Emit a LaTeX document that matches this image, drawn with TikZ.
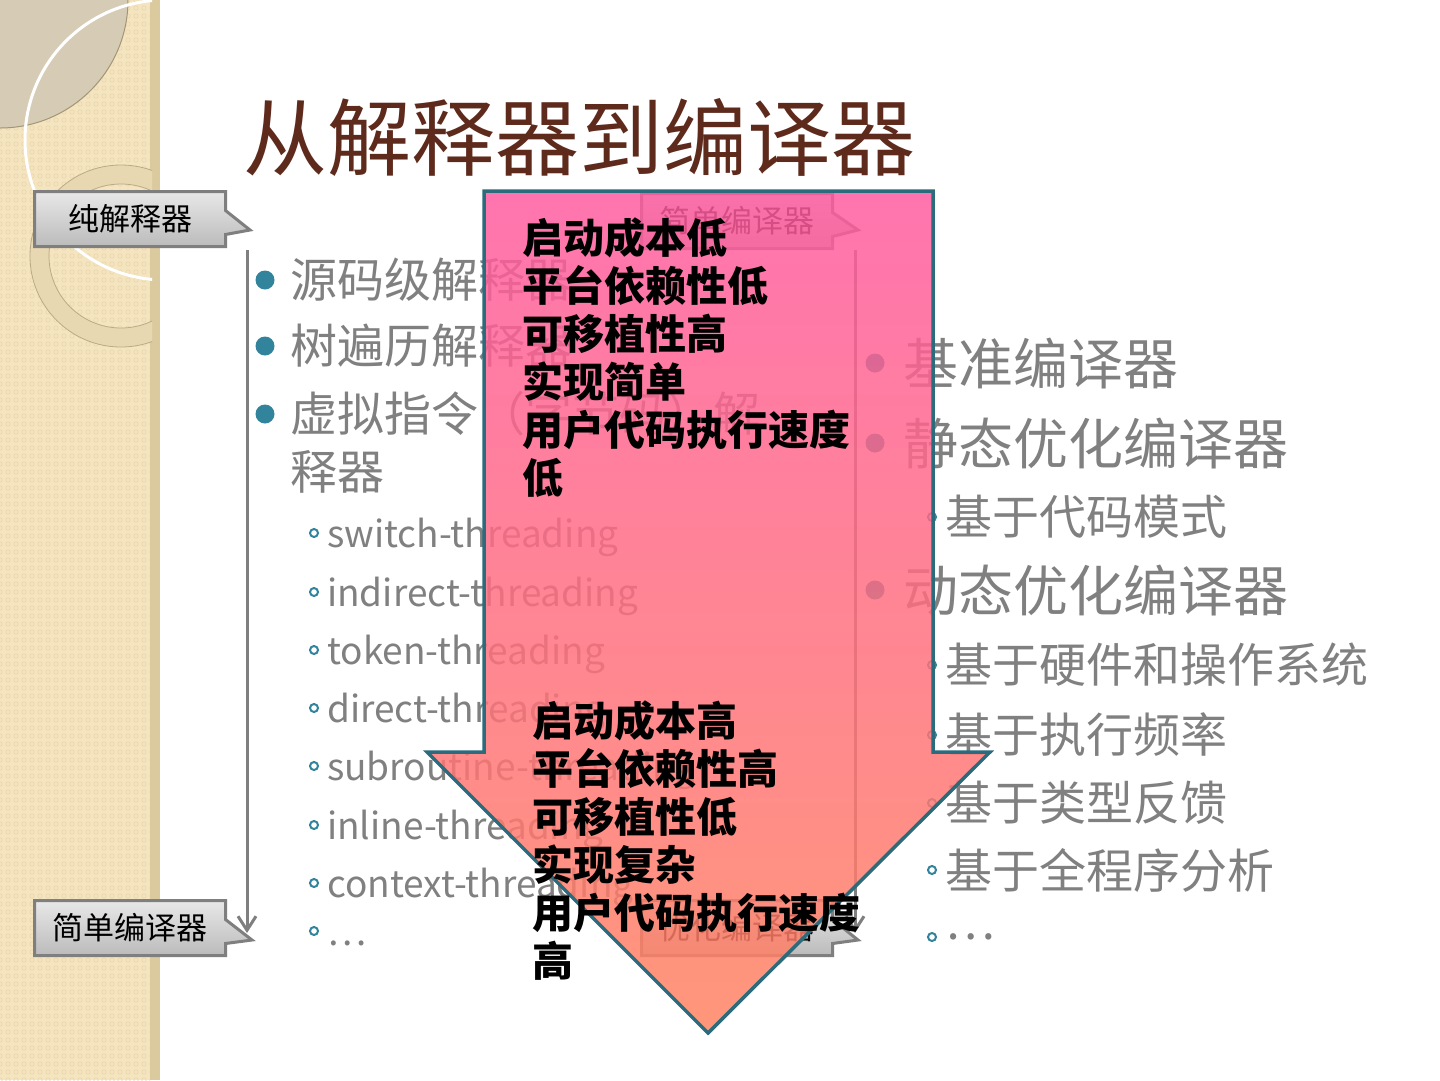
\documentclass[tikz,border=0pt]{standalone}
\usepackage{fontspec}
\setmainfont{Noto Sans CJK SC}
\usetikzlibrary{arrows.meta, positioning, calc, shapes.callouts, patterns.meta}

\definecolor{titlebrown}{HTML}{5E2A1C}
\definecolor{itemgrey}{HTML}{808080}
\definecolor{bullteal}{HTML}{31849B}
\definecolor{stripbeige}{HTML}{F4E4C0}
\definecolor{ringbeige}{HTML}{E9D6A9}
\definecolor{stripedge}{HTML}{DCCA9F}
\definecolor{lensgrey}{HTML}{D6CCB6}
\definecolor{ringtan}{HTML}{E8D8B2}
\definecolor{taggrey}{HTML}{7F7F7F}
\definecolor{tagtop}{HTML}{E8E8E8}
\definecolor{tagbot}{HTML}{BBBBBB}
\definecolor{arrowtop}{HTML}{FF5AA0}
\definecolor{arrowbot}{HTML}{FF8360}
\definecolor{arrowedge}{HTML}{2B6B7C}

\tikzdeclarepattern{
  name=rings,
  type=uncolored,
  bounding box={(-4pt,-4pt) and (4pt,4pt)},
  tile size={(8pt,8pt)},
  code={\draw[line width=0.7pt] (0pt,0pt) circle [radius=2.2pt];}
}

\begin{document}
\begin{tikzpicture}[x=1pt, y=-1pt,
    item/.style={anchor=west, inner sep=0pt, text=itemgrey, font=\fontsize{47}{56}\selectfont},
    subitem/.style={anchor=base west, inner sep=0pt, text=itemgrey, font=\fontsize{37}{44}\selectfont},
    ritem/.style={item, font=\fontsize{55}{64}\selectfont},
    bigdot/.style={circle, fill=bullteal, inner sep=0pt, minimum size=19pt},
    smalldot/.style={circle, draw=bullteal, line width=2pt, inner sep=0pt, minimum size=8pt},
    tag/.style={rectangle callout, callout pointer width=24pt, draw=taggrey, line width=3pt,
        top color=tagtop, bottom color=tagbot, minimum width=191pt, minimum height=55pt,
        font=\fontsize{31}{36}\selectfont},
    guide/.style={draw=taggrey, line width=3pt, -{Straight Barb[length=14pt, width=18pt]}},
    note/.style={anchor=north west, inner sep=0pt, align=left, font=\bfseries\fontsize{41}{48}\selectfont}
]
    \useasboundingbox (0,0) rectangle (1440,1080);
    \fill[white] (0,0) rectangle (1440,1080);

    % left strip
    \fill[stripbeige] (0,0) rectangle (160,1080);
    \fill[pattern={rings}, pattern color=ringbeige] (0,0) rectangle (150,1080);
    \fill[stripedge] (150,0) rectangle (160,1080);
    \begin{scope}
        \clip (0,0) rectangle (152,1080);
        \fill[lensgrey] (0,0) circle (128);
        \draw[ringbeige!70!black, line width=1pt] (0,0) circle (128);
        \fill[ringtan, even odd rule] (121,256) circle (91) (121,256) circle (72);
        \draw[ringbeige!80!black, line width=0.8pt] (121,256) circle (91) (121,256) circle (72);
        \draw[white, line width=3pt] (165,140) circle (140);
    \end{scope}

    % title
    \node[anchor=west, inner sep=0pt, text=titlebrown, font=\fontsize{84}{90}\selectfont]
        (title) at (243,137) {从解释器到编译器};

    % left column
    \node[item] (s1) at (290,280) {源码级解释器};
    \node[item] (s2) at (290,346) {树遍历解释器};
    \node[item] (s3) at (290,414) {虚拟指令（字节码）解};
    \node[item] (s4) at (290,472) {释器};
    \node[bigdot] (b1) at (265,280) {};
    \node[bigdot] (b2) at (265,346) {};
    \node[bigdot] (b3) at (265,414) {};

    \node[subitem] (t1) at (327,547) {switch-threading};
    \node[subitem] (t2) at (327,606) {indirect-threading};
    \node[subitem] (t3) at (327,664) {token-threading};
    \node[subitem] (t4) at (327,722) {direct-threading};
    \node[subitem] (t5) at (327,780) {subroutine-threading};
    \node[subitem] (t6) at (327,839) {inline-threading};
    \node[subitem] (t7) at (327,897) {context-threading};
    \node[subitem] (t8) at (327,945) {…};
    \foreach \t in {t1,t2,t3,t4,t5,t6,t7,t8}
        \node[smalldot] at ($(\t.base west)+(-13,-14)$) {};

    % right column
    \node[ritem] (r1) at (903,363) {基准编译器};
    \node[ritem] (r2) at (903,443) {静态优化编译器};
    \node[ritem] (r4) at (903,590) {动态优化编译器};
    \foreach \r in {r1,r2,r4}
        \node[bigdot] at ($(\r.west)+(-28,0)$) {};
    \node[item] (r3) at (945,517) {基于代码模式};
    \node[item] (r5) at (945,665) {基于硬件和操作系统};
    \node[item] (r6) at (945,735) {基于执行频率};
    \node[item] (r7) at (945,803) {基于类型反馈};
    \node[item] (r8) at (945,870) {基于全程序分析};
    \node[item] (r9) at (945,937) {…};
    \foreach \r in {r3,r5,r6,r7,r8,r9}
        \node[smalldot] at ($(\r.west)+(-13,0)$) {};

    % tags and guides
    \node[tag, callout absolute pointer={(250,230)}] (pure) at (130,219) {纯解释器};
    \node[tag, callout absolute pointer={(252,940)}] (simple) at (130,928) {简单编译器};
    \node[tag, callout absolute pointer={(858,230)}] (base) at (737,221) {简单编译器};
    \node[tag, callout absolute pointer={(858,940)}] (opt) at (737,928) {优化编译器};

    \coordinate (ltop) at (247,250);
    \coordinate (lbot) at (247,933);
    \coordinate (rtop) at (855,250);
    \coordinate (rbot) at (855,933);
    \draw[guide] (ltop) -- (lbot);
    \draw[guide] (rtop) -- (rbot);

    % big arrow
    \shadedraw[top color=arrowtop, bottom color=arrowbot, fill opacity=0.84,
        draw=arrowedge, line width=3.5pt, line join=miter]
        (484,191) -- (933,191) -- (933,752) -- (990,752) -- (708,1033)
        -- (427,752) -- (484,752) -- cycle;

    \node[note] (low) at (522,218) {启动成本低\\平台依赖性低\\可移植性高\\实现简单\\用户代码执行速度\\低};
    \node[note] (high) at (532,701) {启动成本高\\平台依赖性高\\可移植性低\\实现复杂\\用户代码执行速度\\高};
\end{tikzpicture}
\end{document}
